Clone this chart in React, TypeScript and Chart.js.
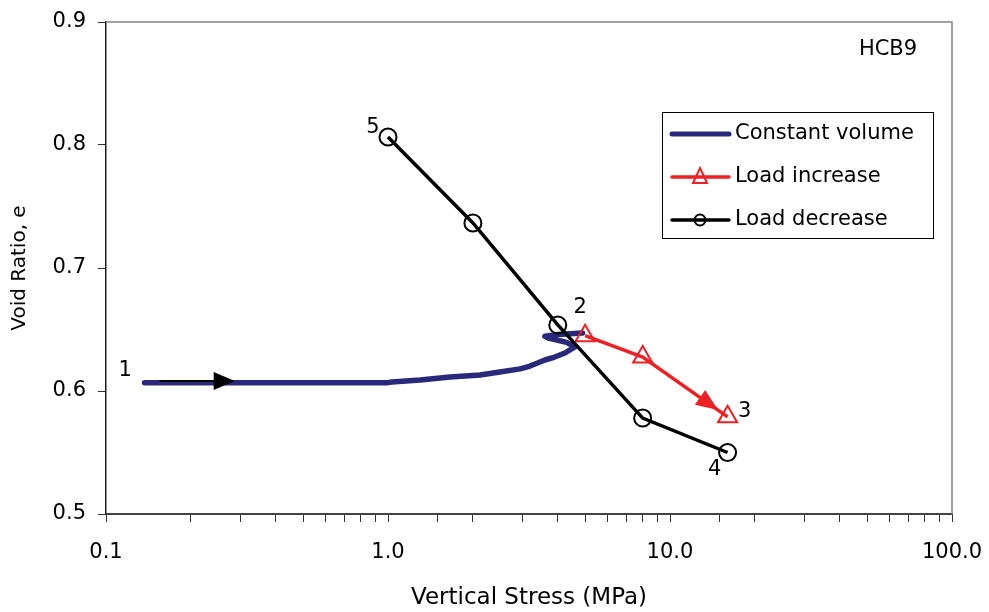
import React, { useEffect, useRef } from "react";
import { Chart, registerables } from "chart.js";

Chart.register(...registerables);

// ---- data ----
const constantVolumeStress = [0.137, 0.3, 0.6, 1.0, 1.03, 1.3, 1.66, 2.12, 2.49, 2.94, 3.19, 3.6, 3.9, 4.24, 4.6, 4.3, 3.7, 3.6, 4.0, 4.9];
const constantVolumeE = [0.6067, 0.6067, 0.6067, 0.6068, 0.6073, 0.609, 0.6114, 0.613, 0.6154, 0.618, 0.6203, 0.6252, 0.6276, 0.6309, 0.6358, 0.6395, 0.6431, 0.6445, 0.646, 0.6472];

const loadIncreaseStress = [5.0, 8.0, 16.0];
const loadIncreaseE = [0.645, 0.6276, 0.579];

const loadDecreaseStress = [1.0, 2.0, 4.0, 8.0, 16.0];
const loadDecreaseE = [0.8065, 0.7366, 0.6537, 0.578, 0.55];

const xTickMajors = [0.1, 1, 10, 100];
const yTicks = [0.5, 0.6, 0.7, 0.8, 0.9];

const stageLabels = ["1", "2", "3", "4", "5"];
const stageLabelStress = [0.117, 4.8, 18.4, 14.4, 0.885];
const stageLabelE = [0.617, 0.6675, 0.5829, 0.5358, 0.8138];

// arrows: [fromStress, fromE, tipStress, tipE]
const blackArrow = [0.155, 0.6081, 0.286, 0.6081];
const redArrow = [8.0, 0.6276, 14.8, 0.5846];

const seriesNames = ["Constant volume", "Load increase", "Load decrease"];
const sampleLabel = "HCB9";

const NAVY = "#28297a";
const RED = "#ee2024";
const BLACK = "#000000";
const FONT = "'DejaVu Sans', 'Liberation Sans', sans-serif";

function toPts(xs: number[], ys: number[]) {
  return xs.map((x, i) => ({ x, y: ys[i] }));
}

function drawArrowHead(ctx: CanvasRenderingContext2D, x0: number, y0: number, x1: number, y1: number, len: number, half: number, color: string) {
  const a = Math.atan2(y1 - y0, x1 - x0);
  const bx = x1 - Math.cos(a) * len;
  const by = y1 - Math.sin(a) * len;
  ctx.beginPath();
  ctx.moveTo(x1, y1);
  ctx.lineTo(bx + Math.sin(a) * half, by - Math.cos(a) * half);
  ctx.lineTo(bx - Math.sin(a) * half, by + Math.cos(a) * half);
  ctx.closePath();
  ctx.fillStyle = color;
  ctx.fill();
}

const decorPlugin = {
  id: "decor",
  beforeDatasetsDraw(chart: any) {
    const { ctx, chartArea } = chart;
    ctx.save();
    ctx.strokeStyle = "#858585";
    ctx.lineWidth = 1.5;
    ctx.beginPath();
    ctx.moveTo(chartArea.left, chartArea.top);
    ctx.lineTo(chartArea.right, chartArea.top);
    ctx.lineTo(chartArea.right, chartArea.bottom);
    ctx.stroke();
    ctx.restore();
  },
  afterDatasetsDraw(chart: any) {
    const { ctx, scales } = chart;
    const xs = scales.x;
    const ys = scales.y;
    ctx.save();
    // black arrow
    const ax0 = xs.getPixelForValue(blackArrow[0]);
    const ay0 = ys.getPixelForValue(blackArrow[1]);
    const ax1 = xs.getPixelForValue(blackArrow[2]);
    const ay1 = ys.getPixelForValue(blackArrow[3]);
    ctx.strokeStyle = BLACK;
    ctx.lineWidth = 2;
    ctx.beginPath();
    ctx.moveTo(ax0, ay0);
    ctx.lineTo(ax1 - 10, ay1);
    ctx.stroke();
    drawArrowHead(ctx, ax0, ay0, ax1, ay1, 21, 9, BLACK);
    // red arrow head
    drawArrowHead(
      ctx,
      xs.getPixelForValue(redArrow[0]),
      ys.getPixelForValue(redArrow[1]),
      xs.getPixelForValue(redArrow[2]),
      ys.getPixelForValue(redArrow[3]),
      22,
      9,
      RED
    );
    // stage labels
    ctx.fillStyle = "#000";
    ctx.font = `21px ${FONT}`;
    ctx.textAlign = "center";
    ctx.textBaseline = "middle";
    stageLabels.forEach((t, i) => {
      ctx.fillText(t, xs.getPixelForValue(stageLabelStress[i]), ys.getPixelForValue(stageLabelE[i]));
    });
    // sample label
    ctx.fillText(sampleLabel, 888, 50);

    // legend
    const lx = 662, ly = 112, lw = 271, lh = 126;
    ctx.fillStyle = "#fff";
    ctx.fillRect(lx, ly, lw, lh);
    ctx.strokeStyle = "#000";
    ctx.lineWidth = 1;
    ctx.strokeRect(lx + 0.5, ly + 0.5, lw, lh);
    const rowsY = [134, 177, 220];
    chart.data.datasets.forEach((ds: any, i: number) => {
      const y = rowsY[i];
      ctx.strokeStyle = ds.borderColor;
      ctx.lineWidth = i === 0 ? 5 : 3.5;
      ctx.lineCap = "round";
      ctx.beginPath();
      ctx.moveTo(672, y);
      ctx.lineTo(729, y);
      ctx.stroke();
      ctx.lineCap = "butt";
      if (ds.pointStyle === "triangle") {
        ctx.strokeStyle = ds.pointBorderColor;
        ctx.lineWidth = 2;
        ctx.beginPath();
        ctx.moveTo(700, y - 9);
        ctx.lineTo(707, y + 6);
        ctx.lineTo(693, y + 6);
        ctx.closePath();
        ctx.stroke();
      } else if (ds.pointStyle === "circle" && ds.pointRadius > 0) {
        ctx.strokeStyle = ds.pointBorderColor;
        ctx.lineWidth = 2;
        ctx.beginPath();
        ctx.arc(700, y, 5.5, 0, Math.PI * 2);
        ctx.stroke();
      }
      ctx.fillStyle = "#000";
      ctx.textAlign = "left";
      ctx.textBaseline = "middle";
      ctx.font = `21px ${FONT}`;
      ctx.fillText(ds.label, 735, y);
    });
    ctx.restore();
  },
};

export default function App() {
  const ref = useRef<HTMLCanvasElement | null>(null);
  useEffect(() => {
    if (!ref.current) return;
    const chart = new Chart(ref.current, {
      type: "line",
      data: {
        datasets: [
          {
            label: seriesNames[0],
            data: toPts(constantVolumeStress, constantVolumeE),
            borderColor: NAVY,
            backgroundColor: NAVY,
            borderWidth: 5.5,
            pointRadius: 0,
            pointStyle: "line",
            tension: 0,
            borderCapStyle: "round",
            borderJoinStyle: "round",
            order: 3,
          },
          {
            label: seriesNames[1],
            data: toPts(loadIncreaseStress, loadIncreaseE),
            borderColor: RED,
            backgroundColor: "rgba(0,0,0,0)",
            borderWidth: 3.5,
            pointStyle: "triangle",
            pointRadius: 11,
            pointBorderWidth: 2,
            pointBorderColor: RED,
            pointBackgroundColor: "rgba(0,0,0,0)",
            tension: 0,
            order: 2,
          },
          {
            label: seriesNames[2],
            data: toPts(loadDecreaseStress, loadDecreaseE),
            borderColor: BLACK,
            backgroundColor: "rgba(0,0,0,0)",
            borderWidth: 3.5,
            pointStyle: "circle",
            pointRadius: 8.5,
            pointBorderWidth: 2,
            pointBorderColor: BLACK,
            pointBackgroundColor: "rgba(0,0,0,0)",
            tension: 0,
            order: 1,
          },
        ],
      },
      options: {
        animation: false,
        responsive: false,
        parsing: true,
        layout: { padding: { left: 0, top: 22, right: 37, bottom: 0 } },
        plugins: {
          legend: { display: false },
          tooltip: { enabled: false },
        },
        scales: {
          x: {
            type: "logarithmic",
            min: 0.1,
            max: 100,
            afterFit: (s: any) => {
              s.height = 98;
              s.paddingLeft = 0;
              s.paddingRight = 0;
            },
            grid: {
              drawOnChartArea: false,
              drawTicks: true,
              tickLength: 8,
              tickColor: "#333",
              tickWidth: 1,
            },
            border: { color: "#444", width: 2 },
            ticks: {
              autoSkip: false,
              maxRotation: 0,
              padding: 18,
              color: "#000",
              font: { family: FONT, size: 21 },
              callback: (v: any) => {
                const n = Number(v);
                return xTickMajors.some((m) => Math.abs(m - n) / m < 1e-6) ? n.toFixed(1) : "";
              },
            },
            title: {
              display: true,
              text: "Vertical Stress (MPa)",
              color: "#000",
              font: { family: FONT, size: 23 },
              padding: { top: 0, bottom: 0 },
            },
          },
          y: {
            type: "linear",
            min: 0.5,
            max: 0.9,
            afterFit: (s: any) => {
              s.width = 106;
              s.paddingTop = 0;
              s.paddingBottom = 0;
            },
            afterBuildTicks: (s: any) => {
              s.ticks = yTicks.map((v) => ({ value: v }));
            },
            grid: {
              drawOnChartArea: false,
              drawTicks: true,
              tickLength: 8,
              tickColor: "#333",
            },
            border: { color: "#222", width: 1.5 },
            ticks: {
              padding: 12,
              color: "#000",
              font: { family: FONT, size: 21 },
              callback: (v: any) => Number(v).toFixed(1),
            },
            title: {
              display: true,
              text: "Void Ratio, e",
              color: "#000",
              font: { family: FONT, size: 20 },
              padding: { top: 8, bottom: 0 },
            },
          },
        },
      } as any,
      plugins: [decorPlugin],
    });
    return () => chart.destroy();
  }, []);
  return (
    <div style={{ position: "absolute", left: 0, top: 0, width: 989, height: 612, background: "#fff" }}>
      <canvas ref={ref} width={989} height={612} style={{ display: "block" }} />
    </div>
  );
}
